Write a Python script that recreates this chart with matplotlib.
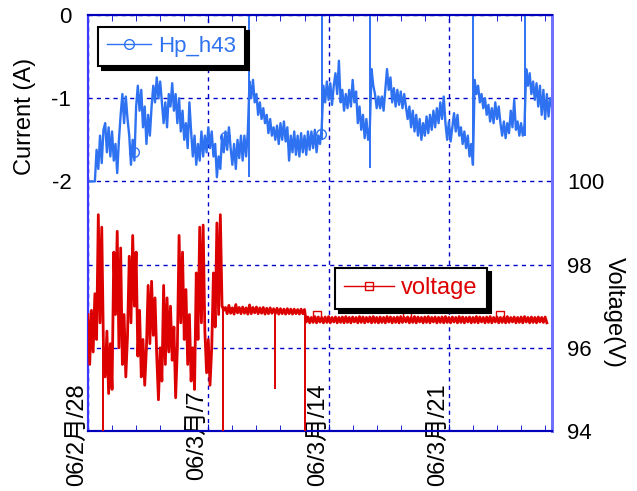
import matplotlib
matplotlib.use('Agg')
import matplotlib.pyplot as plt
import numpy as np
from matplotlib.lines import Line2D
from matplotlib.ticker import MultipleLocator

plt.rcParams['font.family'] = ['Liberation Sans', 'Noto Sans CJK JP']
plt.rcParams['axes.unicode_minus'] = False

# -------------------------------------------------------------------------------------
# data (x = days since 06/2/28, sampled every 0.1 day)
# -------------------------------------------------------------------------------------
current = [
    -2.00, -2.00, -2.00, -2.00, -2.00, -1.62, -1.85, -1.45, -1.78, -1.38,
    -1.30, -1.65, -1.35, -1.70, -1.40, -1.75, -1.55, -1.90, -1.50, -1.20,
    -0.95, -1.30, -0.98, -1.25, -1.45, -1.80, -1.50, -1.75, -1.10, -0.85,
    -1.15, -0.90, -1.35, -1.10, -1.55, -1.20, -1.45, -1.10, -0.85, -1.05,
    -0.75, -1.00, -0.80, -1.05, -1.30, -1.05, -1.35, -0.95, -1.10, -0.82,
    -1.15, -0.95, -1.30, -1.00, -1.40, -1.15, -1.50, -1.30, -1.60, -1.05,
    -1.40, -1.70, -1.45, -1.80, -1.55, -1.75, -1.40, -1.70, -1.45, -1.65,
    -1.35, -1.60, -1.40, -1.70, -1.55, -1.95, -1.70, -1.85, -1.45, -1.65,
    -1.40, -1.62, -1.35, -1.60, -1.80, -1.55, -1.85, -1.50, -1.72, -1.45,
    -1.75, -1.45, -1.70, -1.40, -0.80, -1.00, -0.78, -1.05, -0.95, -1.20,
    -1.05, -1.25, -1.12, -1.30, -1.20, -1.42, -1.25, -1.45, -1.35, -1.50,
    -1.33, -1.55, -1.30, -1.50, -1.28, -1.52, -1.35, -1.75, -1.45, -1.65,
    -1.40, -1.68, -1.45, -1.70, -1.42, -1.65, -1.45, -1.68, -1.40, -1.62,
    -1.40, -1.60, -1.38, -1.65, -1.45, -1.55, -1.35, -0.85, -1.05, -0.80,
    -1.02, -0.82, -1.08, -0.85, -0.70, -0.95, -0.55, -1.05, -0.90, -1.15,
    -0.95, -1.12, -0.90, -1.10, -0.78, -1.05, -0.92, -1.30, -1.10, -1.38,
    -1.20, -1.48, -1.25, -1.50, -1.35, -0.65, -0.85, -0.95, -1.12, -0.98,
    -1.12, -0.98, -1.15, -0.90, -0.65, -0.90, -0.75, -1.05, -0.88, -1.10,
    -0.90, -1.08, -0.92, -1.12, -0.95, -1.10, -1.25, -1.10, -1.35, -1.15,
    -1.40, -1.20, -1.45, -1.25, -1.50, -1.30, -1.45, -1.22, -1.42, -1.20,
    -1.38, -1.15, -1.35, -1.12, -1.30, -1.05, -1.25, -0.98, -1.30, -1.50,
    -1.28, -1.52, -1.35, -1.18, -1.40, -1.20, -1.45, -1.35, -1.55, -1.40,
    -1.60, -1.45, -1.70, -1.55, -1.80, -0.78, -0.95, -0.85, -1.05, -0.95,
    -1.12, -1.00, -1.20, -1.08, -1.28, -1.12, -1.30, -1.05, -1.25, -1.10,
    -1.30, -1.45, -1.28, -1.48, -1.30, -1.42, -1.15, -1.35, -1.02, -1.38,
    -1.28, -1.45, -1.30, -1.45, -1.32, -0.65, -0.85, -0.70, -0.95, -0.80,
    -1.02, -0.82, -1.10, -0.85, -1.20, -0.90, -1.25, -0.95, -1.22, -1.00,
    -1.10,
]

voltage = [
    96.80, 95.60, 96.90, 95.90, 97.30, 96.20, 99.20, 96.60, 98.90, 96.00,
    95.30, 96.40, 94.90, 96.10, 95.00, 98.30, 96.80, 98.80, 96.00, 98.40,
    95.60, 96.80, 95.30, 96.30, 98.20, 96.60, 98.70, 97.00, 98.30, 95.80,
    96.90, 95.30, 96.20, 95.10, 96.00, 97.50, 96.10, 97.60, 96.30, 97.20,
    95.80, 94.75, 96.00, 95.20, 97.50, 95.60, 97.20, 95.90, 97.00, 95.70,
    96.50, 94.80, 96.00, 98.70, 96.60, 98.30, 96.20, 97.40, 95.60, 96.80,
    95.20, 96.00, 95.00, 97.80, 96.20, 98.90, 96.60, 98.95, 96.40, 95.40,
    96.20, 95.10, 96.00, 97.80, 96.50, 99.00, 96.80, 99.20, 97.00, 96.90,
    96.97, 96.82, 97.02, 96.83, 96.96, 96.81, 97.04, 96.84, 96.97, 96.82,
    96.98, 96.83, 96.96, 96.81, 97.03, 96.82, 96.97, 96.84, 96.98, 96.82,
    96.96, 96.83, 96.97, 96.81, 96.95, 96.82, 96.96, 96.83, 96.94, 96.82,
    96.95, 96.81, 96.94, 96.82, 96.93, 96.81, 96.94, 96.82, 96.93, 96.81,
    96.93, 96.82, 96.92, 96.81, 96.93, 96.82, 96.92, 96.62, 96.74, 96.60,
    96.73, 96.61, 96.75, 96.60, 96.74, 96.62, 96.73, 96.60, 96.74, 96.61,
    96.75, 96.60, 96.73, 96.62, 96.74, 96.60, 96.73, 96.61, 96.74, 96.60,
    96.75, 96.61, 96.73, 96.60, 96.74, 96.62, 96.73, 96.60, 96.75, 96.61,
    96.74, 96.60, 96.73, 96.62, 96.74, 96.60, 96.75, 96.61, 96.73, 96.60,
    96.74, 96.61, 96.73, 96.60, 96.75, 96.62, 96.74, 96.60, 96.73, 96.61,
    96.74, 96.60, 96.75, 96.61, 96.73, 96.62, 96.74, 96.60, 96.73, 96.61,
    96.75, 96.60, 96.74, 96.62, 96.73, 96.60, 96.74, 96.61, 96.75, 96.60,
    96.73, 96.62, 96.74, 96.60, 96.73, 96.61, 96.74, 96.60, 96.75, 96.61,
    96.73, 96.60, 96.74, 96.62, 96.73, 96.60, 96.75, 96.61, 96.74, 96.60,
    96.73, 96.62, 96.74, 96.60, 96.73, 96.61, 96.75, 96.60, 96.74, 96.62,
    96.73, 96.60, 96.74, 96.61, 96.75, 96.60, 96.73, 96.62, 96.74, 96.60,
    96.73, 96.61, 96.74, 96.60, 96.75, 96.61, 96.73, 96.62, 96.74, 96.60,
    96.73, 96.61, 96.74, 96.60, 96.75, 96.62, 96.73, 96.60, 96.74, 96.61,
    96.73, 96.60, 96.74, 96.62, 96.73, 96.61, 96.74, 96.60,
]

days_i = np.round(np.arange(len(current)) * 0.1, 1)
days_v = np.round(np.arange(len(voltage)) * 0.1, 1)

# short spikes in the logs
cur_spike_days = [9.37, 13.62, 16.42, 22.43, 25.45]
cur_spike_low = [-1.95, -1.50, -1.84, -1.80, -1.45]
cur_spike_high = [0.0, 0.0, 0.0, 0.0, 0.0]
volt_spike_days = [0.88, 7.86, 10.88, 12.62]
volt_spike_low = [94.0, 94.0, 95.0, 94.0]
volt_spike_high = [96.5, 97.0, 96.85, 96.9]

# symbol positions
cur_mark_days = [2.65, 7.95, 13.55]
cur_mark_vals = [-1.65, -1.47, -1.43]
volt_mark_days = [13.3, 18.56, 23.97]
volt_mark_vals = [96.8, 96.8, 96.8]

tick_days = [0, 7, 14, 21]
tick_labels = ['06/2月/28', '06/3月/7', '06/3月/14', '06/3月/21']

# -------------------------------------------------------------------------------------
# plot
# -------------------------------------------------------------------------------------
blue = '#2e72f2'
red = '#dd0000'
gridc = '#0000cc'

fig = plt.figure(figsize=(6.37, 4.91), dpi=100)
ax = fig.add_axes([88/637, 60/491, 464/637, 416/491])
ax2 = ax.twinx()

ax.plot(days_i, current, color=blue, lw=1.7, zorder=3)
ax.vlines(cur_spike_days, cur_spike_low, cur_spike_high, color=blue, lw=1.4, zorder=3)
ax.plot(cur_mark_days, cur_mark_vals, ls='none', marker='o', ms=7, mfc='none', mec=blue, mew=1.0, zorder=3)

ax2.plot(days_v, voltage, color=red, lw=2.0, zorder=3)
ax2.vlines(volt_spike_days, volt_spike_low, volt_spike_high, color=red, lw=1.4, zorder=3)
ax2.plot(volt_mark_days, volt_mark_vals, ls='none', marker='s', ms=6, mfc='none', mec=red, mew=1.0, zorder=3)

ax.set_xlim(0, 27.0)
ax.set_ylim(-5, 0)
ax2.set_ylim(94, 104)

ax.set_xticks(tick_days)
ax.set_xticklabels([])
ax.xaxis.set_minor_locator(MultipleLocator(1.4))
ax.set_yticks([-4, -3, -2, -1, 0])
ax.set_yticklabels(['', '', '-2', '-1', '0'])
ax2.set_yticks([94, 96, 98, 100])
ax2.set_yticklabels(['94', '96', '98', '100'])

ax.tick_params(axis='x', which='both', direction='in', top=True, bottom=True, colors=gridc, length=5)
ax.tick_params(axis='x', which='minor', length=4)
ax.tick_params(axis='y', direction='in', length=0, labelsize=16, labelcolor='black', pad=12)
ax2.tick_params(axis='y', direction='in', length=0, labelsize=16, labelcolor='black', pad=11)

ax.grid(True, which='major', color=gridc, linestyle=(0, (3, 3)), linewidth=1.0)

for a in (ax, ax2):
    a.spines['top'].set_color('#0000bb')
    a.spines['bottom'].set_color('#0000bb')
    a.spines['left'].set_color('#3a3aff')
    a.spines['right'].set_color('#7070ff')
    for s in a.spines.values():
        s.set_linewidth(1.5)
    a.spines['right'].set_linewidth(2.0)

for d, lab in zip(tick_days, tick_labels):
    ax.text(d, -0.01, lab, transform=ax.get_xaxis_transform(), rotation=90,
            ha='right', va='center', fontsize=17, color='black', clip_on=False)

fig.text(25/637, 1 - 116/491, 'Current (A)', rotation=90, ha='center', va='center', fontsize=17)
fig.text(614/637, 1 - 312/491, 'Voltage(V)', rotation=270, ha='center', va='center', fontsize=17)

shadow = {'ox': 3, 'oy': -3, 'facecolor': 'black', 'edgecolor': 'black', 'alpha': 1}
h1 = Line2D([], [], color=blue, lw=1.0, marker='o', ms=7, mfc='none', mec=blue)
leg1 = ax.legend([h1], ['Hp_h43'], loc='upper left', bbox_to_anchor=(98/637, 1 - 27/491),
                 bbox_transform=fig.transFigure, fancybox=False, shadow=shadow, framealpha=1,
                 fontsize=16, handlelength=2.0, handletextpad=0.3, borderpad=0.4, borderaxespad=0)
leg1.get_frame().set_edgecolor('black')
leg1.get_frame().set_linewidth(1.5)
leg1.get_texts()[0].set_color(blue)

h2 = Line2D([], [], color=red, lw=1.0, marker='s', ms=6, mfc='none', mec=red)
leg2 = ax2.legend([h2], ['voltage'], loc='upper left', bbox_to_anchor=(335/637, 1 - 268/491),
                  bbox_transform=fig.transFigure, fancybox=False, shadow=shadow, framealpha=1,
                  fontsize=17, handlelength=2.1, handletextpad=0.3, borderpad=0.4, borderaxespad=0)
leg2.get_frame().set_edgecolor('black')
leg2.get_frame().set_linewidth(1.5)
leg2.get_texts()[0].set_color(red)

fig.savefig('out.png', dpi=100)
